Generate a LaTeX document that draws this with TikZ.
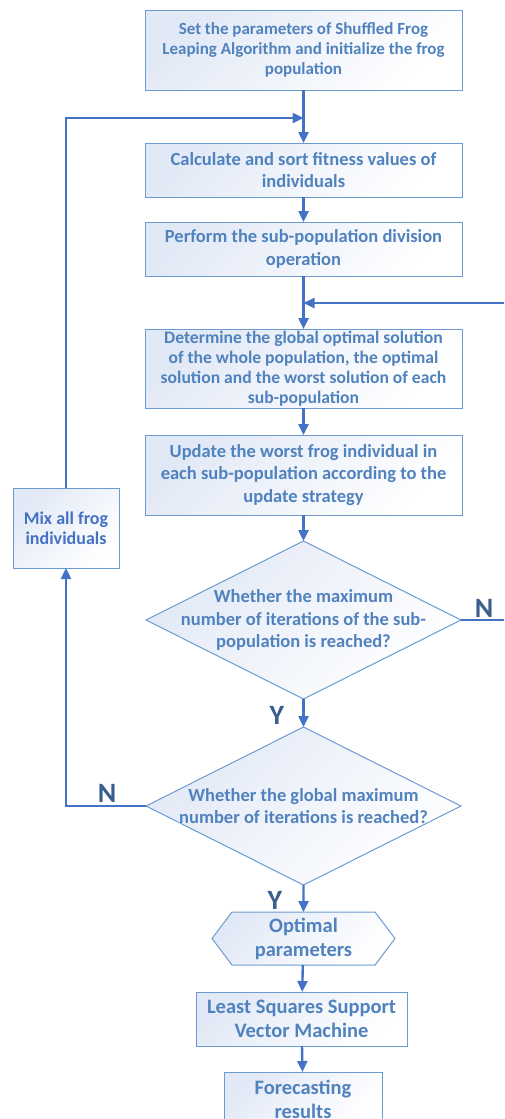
\documentclass[tikz,border=0pt]{standalone}
\usepackage{fontspec}
\setmainfont{Carlito}
\usetikzlibrary{shapes.geometric, shapes.symbols, arrows.meta}
\definecolor{lineblue}{HTML}{4472C4}
\definecolor{edgeblue}{HTML}{6C9BD2}
\definecolor{fillblue}{HTML}{E2E9F6}
\definecolor{txtblue}{HTML}{5082BE}
\definecolor{ynblue}{HTML}{3A5E8E}

\begin{document}
\begin{tikzpicture}[x=1pt, y=-1pt]
        \tikzstyle{blk} = [draw=lineblue, line width=2.4pt, -{Triangle[length=11pt, width=10pt]}]
        \tikzstyle{box} = [draw=edgeblue, line width=1pt, top color=fillblue, bottom color=white, shading angle=45, text=txtblue, font=\bfseries\fontsize{18.5}{22.5}\selectfont, align=center, inner sep=0pt, outer sep=0pt]
        \tikzstyle{decision} = [box, diamond, minimum width=315pt, minimum height=158pt]
        \tikzstyle{yn} = [text=ynblue, font=\bfseries\fontsize{28}{28}\selectfont]
        
        \useasboundingbox (0,0) rectangle (504,1119);
        \clip (0,0) rectangle (504,1119);
        
        \node[box, font=\bfseries\fontsize{17}{20}\selectfont, minimum width=317pt, minimum height=80pt] (init) at (303.5, 50) {Set the parameters of Shuffled Frog\\Leaping Algorithm and initialize the frog\\population};
        \node[box, minimum width=317pt, minimum height=54pt] (fitness) at (303.5, 170) {Calculate and sort fitness values of\\individuals};
        \node[box, font=\bfseries\fontsize{18.5}{23.5}\selectfont, minimum width=317pt, minimum height=54pt] (divide) at (303.5, 249) {Perform the sub-population division\\operation};
        \node[box, font=\bfseries\fontsize{17.6}{20}\selectfont, minimum width=317pt, minimum height=79pt] (best) at (303.5, 368.5) {Determine the global optimal solution\\of the whole population, the optimal\\solution and the worst solution of each\\sub-population};
        \node[box, minimum width=317pt, minimum height=80pt] (update) at (303.5, 475) {Update the worst frog individual in\\each sub-population according to the\\update strategy};
        \node[box, text=lineblue, font=\bfseries\fontsize{18}{20}\selectfont, minimum width=106pt, minimum height=80pt] (mix) at (66, 528) {Mix all frog\\individuals};
        \node[decision, label={[text=txtblue, font=\bfseries\fontsize{18.5}{22.5}\selectfont, align=center]center:Whether the maximum\\number of iterations of the sub-\\population is reached?}] (subiter) at (303.5, 620) {};
        \node[decision, label={[text=txtblue, font=\bfseries\fontsize{18.5}{22}\selectfont, align=center]center:Whether the global maximum\\number of iterations is reached?}] (globiter) at (303.5, 806) {};
        \node[box, signal, signal to=west and east, signal pointer angle=106, font=\bfseries\fontsize{20.5}{24}\selectfont, minimum width=183pt, minimum height=53pt] (optpar) at (303.5, 938.5) {Optimal\\parameters};
        \node[box, font=\bfseries\fontsize{20.5}{24}\selectfont, minimum width=211pt, minimum height=54pt] (lssvm) at (301.5, 1019) {Least Squares Support\\Vector Machine};
        \node[box, font=\bfseries\fontsize{20.5}{24}\selectfont, minimum width=158pt, minimum height=54pt] (result) at (303, 1099) {Forecasting\\results};
        
        \node[yn] (nsub) at (484, 608) {N};
        \node[yn] (ysub) at (277, 715) {Y};
        \node[yn] (nglob) at (107, 793) {N};
        \node[yn] (yglob) at (275, 900) {Y};
        
        \coordinate (loopin) at (303.5, 118);
        \coordinate (subin) at (303.5, 303);
        \coordinate (nright) at (515, 620);
        
        \path[blk] (init) to (fitness);
        \path[blk] (fitness) to (divide);
        \path[blk] (divide) to (best);
        \path[blk] (best) to (update);
        \path[blk] (update) to (subiter);
        \path[blk] (subiter) to (globiter);
        \path[blk] (globiter) to (optpar);
        \path[blk] (optpar) to (lssvm);
        \path[blk] (lssvm) to (result);
        \draw[blk] (subiter.east) -- (nright) |- (subin);
        \draw[blk] (globiter.west) -| (mix.south);
        \draw[blk] (mix.north) |- (loopin);
    \end{tikzpicture}
\end{document}
